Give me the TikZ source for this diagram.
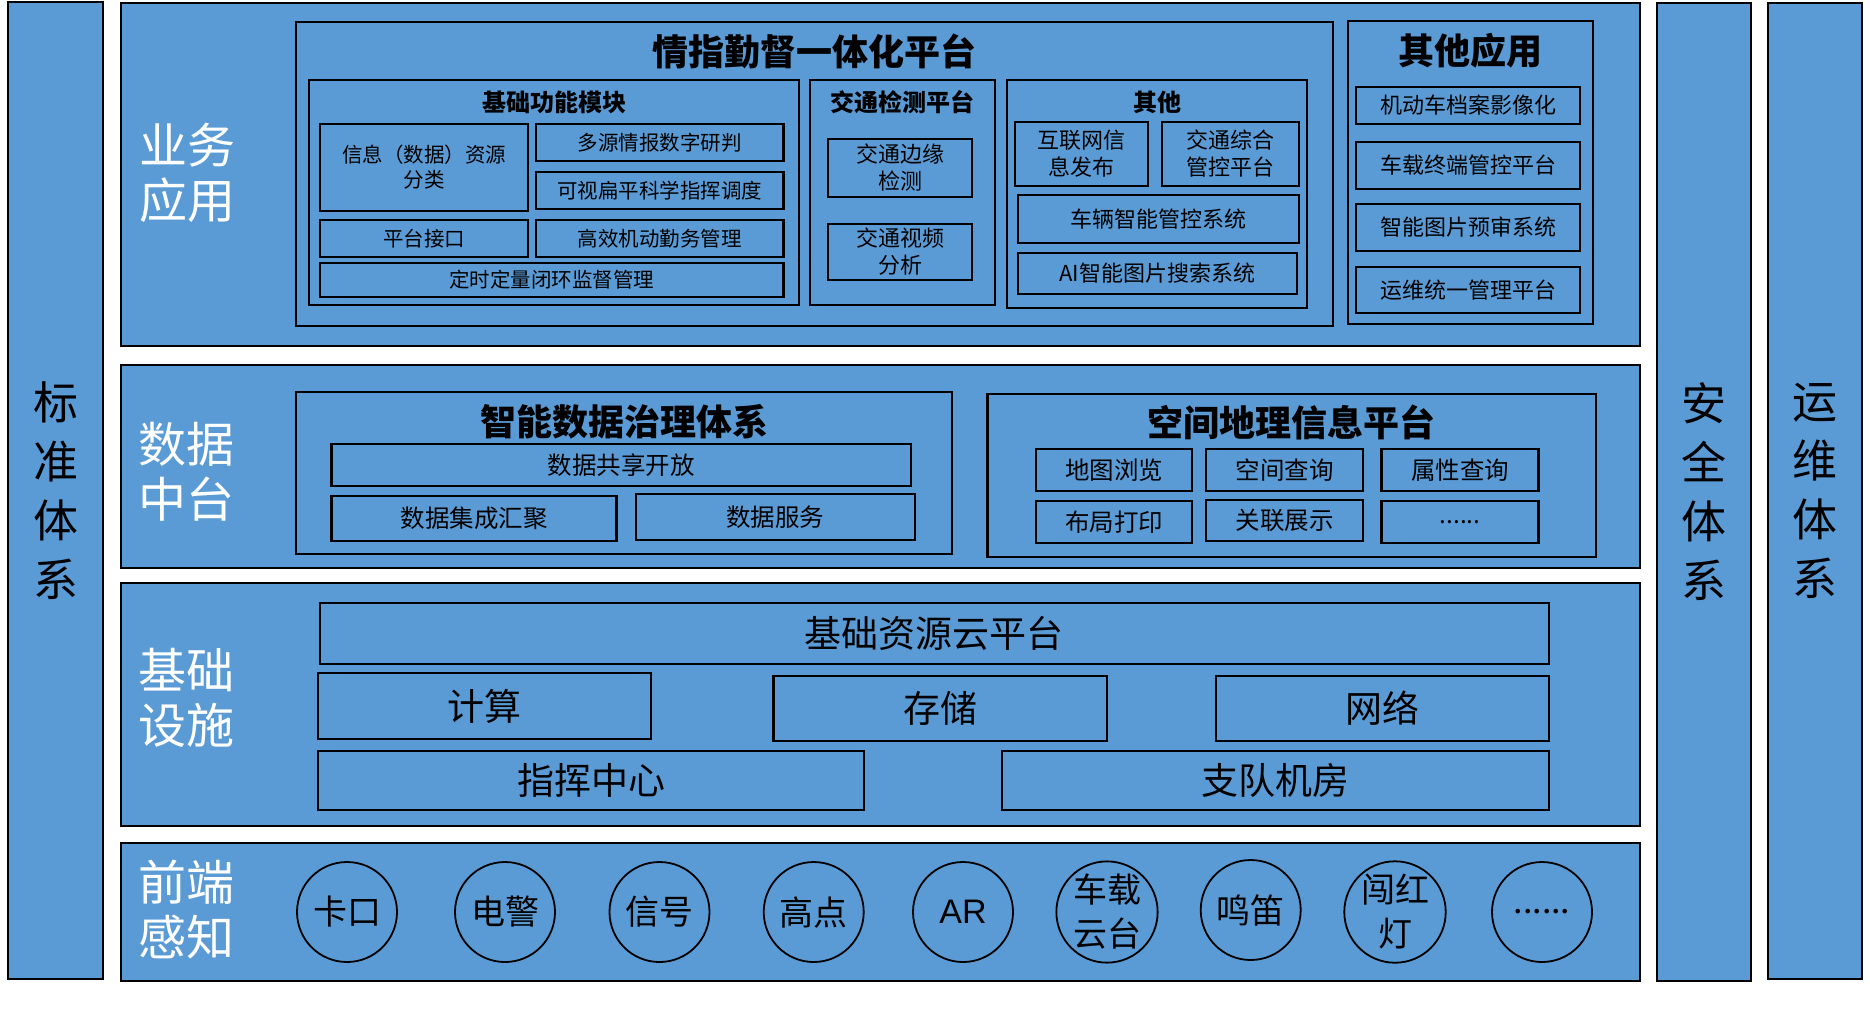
\documentclass[tikz,border=0pt]{standalone}
\usepackage{fontspec}
\setmainfont{Noto Sans CJK SC}
\newfontfamily\latinfont{Liberation Sans}
\usepackage{xcolor}
\usepackage{tikz}
\definecolor{panelblue}{HTML}{5B9BD5}

\begin{document}
\begin{tikzpicture}[x=1pt, y=-1pt,
    layer/.style={rectangle, draw, line width=2.4pt, fill=panelblue, inner sep=0pt},
    panel/.style={rectangle, draw, line width=2.2pt, fill=panelblue, inner sep=0pt},
    item/.style={rectangle, draw, line width=2.2pt, fill=panelblue, inner sep=0pt, align=center, font=\fontsize{20.5}{25}\selectfont},
    miditem/.style={item, font=\fontsize{22}{27}\selectfont},
    dataitem/.style={item, font=\fontsize{24.5}{29}\selectfont},
    bigitem/.style={item, font=\fontsize{37}{42}\selectfont},
    sensor/.style={circle, draw, line width=1.8pt, minimum size=100pt, inner sep=0pt, align=center, font=\fontsize{34}{44}\selectfont},
    layertext/.style={white, align=center, font=\fontsize{48}{55}\selectfont},
    bartext/.style={align=center, font=\fontsize{45}{59}\selectfont},
    bigtitle/.style={font=\bfseries\fontsize{36}{40}\selectfont},
    subtitle/.style={font=\bfseries\fontsize{24}{28}\selectfont}]
    \useasboundingbox (0,0) rectangle (1870,1013);

    \node [layer, minimum width=95pt, minimum height=977pt] (stdbar) at (55.5,490.5) {};
    \node [bartext] (stdtxt) at (stdbar) {标\\准\\体\\系};
    \node [layer, minimum width=94pt, minimum height=978pt] (secbar) at (1704,492) {};
    \node [bartext] (sectxt) at (secbar) {安\\全\\体\\系};
    \node [layer, minimum width=94pt, minimum height=976pt] (opsbar) at (1815,491) {};
    \node [bartext] (opstxt) at (opsbar) {运\\维\\体\\系};

    \node [layer, minimum width=1519pt, minimum height=343pt] (app) at (880.5,174.5) {};
    \node [layer, minimum width=1519pt, minimum height=203pt] (data) at (880.5,466.5) {};
    \node [layer, minimum width=1519pt, minimum height=243pt] (infra) at (880.5,704.5) {};
    \node [layer, minimum width=1519pt, minimum height=138pt] (front) at (880.5,912) {};
    \node [layertext] (apptxt) at (187,173) {业务\\应用};
    \node [layertext] (datatxt) at (186,472) {数据\\中台};
    \node [layertext] (infratxt) at (186,698) {基础\\设施};
    \node [layertext] (fronttxt) at (186,910) {前端\\感知};

    \node [panel, minimum width=1037pt, minimum height=304pt] (qzpt) at (814.5,174) {};
    \node [bigtitle] (qzpttitle) at ([yshift=-31pt]qzpt.north) {情指勤督一体化平台};
    \node [panel, minimum width=490pt, minimum height=225pt] (jcgn) at (554,192.5) {};
    \node [subtitle] (jcgntitle) at ([yshift=-23pt]jcgn.north) {基础功能模块};
    \node [item, minimum width=208pt, minimum height=87pt] (xxzy) at (424,167.5) {信息（数据）资源\\分类};
    \node [item, minimum width=247.5pt, minimum height=37pt] (dyqb) at (659.75,142.5) {多源情报数字研判};
    \node [item, minimum width=247.5pt, minimum height=37pt] (ksbp) at (659.75,190.5) {可视扁平科学指挥调度};
    \node [item, minimum width=208pt, minimum height=37pt] (ptjk) at (424,238.5) {平台接口};
    \node [item, minimum width=247.5pt, minimum height=37pt] (gxjd) at (659.75,238.5) {高效机动勤务管理};
    \node [item, minimum width=463.5pt, minimum height=34pt] (dsdl) at (551.75,280) {定时定量闭环监督管理};

    \node [panel, minimum width=185pt, minimum height=225pt] (jtjc) at (902.5,192.5) {};
    \node [subtitle] (jtjctitle) at ([yshift=-23pt]jtjc.north) {交通检测平台};
    \node [miditem, minimum width=144pt, minimum height=58pt] (jtby) at (900,168) {交通边缘\\检测};
    \node [miditem, minimum width=144pt, minimum height=56pt] (jtsp) at (900,252) {交通视频\\分析};

    \node [panel, minimum width=300pt, minimum height=228pt] (qita) at (1157,194) {};
    \node [subtitle] (qitatitle) at ([yshift=-23pt]qita.north) {其他};
    \node [miditem, minimum width=133pt, minimum height=64pt] (hlw) at (1081.5,154) {互联网信\\息发布};
    \node [miditem, minimum width=137pt, minimum height=64pt] (jtzh) at (1230.5,154) {交通综合\\管控平台};
    \node [miditem, minimum width=281pt, minimum height=48pt] (clzn) at (1158.5,219) {车辆智能管控系统};
    \node [miditem, minimum width=279pt, minimum height=41pt] (aizn) at (1157.5,273.5) {AI智能图片搜索系统};

    \node [panel, minimum width=245pt, minimum height=303pt] (qtyy) at (1470.5,172.5) {};
    \node [bigtitle] (qtyytitle) at ([yshift=-31pt]qtyy.north) {其他应用};
    \node [miditem, minimum width=224pt, minimum height=37pt] (jdcda) at (1468,105.5) {机动车档案影像化};
    \node [miditem, minimum width=224pt, minimum height=47pt] (czzd) at (1468,165.5) {车载终端管控平台};
    \node [miditem, minimum width=224pt, minimum height=47pt] (zntp) at (1468,227.5) {智能图片预审系统};
    \node [miditem, minimum width=224pt, minimum height=46pt] (ywty) at (1468,290) {运维统一管理平台};

    \node [panel, minimum width=656pt, minimum height=162pt] (zlsj) at (624,473) {};
    \node [bigtitle] (zlsjtitle) at ([yshift=-31pt]zlsj.north) {智能数据治理体系};
    \node [dataitem, minimum width=579.5pt, minimum height=42pt] (gxkf) at (621.25,465) {数据共享开放};
    \node [dataitem, minimum width=285pt, minimum height=45pt] (jchj) at (474,518.5) {数据集成汇聚};
    \node [dataitem, minimum width=279.3pt, minimum height=46pt] (sjfw) at (775.35,517) {数据服务};

    \node [panel, minimum width=608.5pt, minimum height=163pt] (kjdl) at (1291.75,475.5) {};
    \node [bigtitle] (kjdltitle) at ([yshift=-30pt]kjdl.north) {空间地理信息平台};
    \node [dataitem, minimum width=156pt, minimum height=42pt] (dtll) at (1114,470) {地图浏览};
    \node [dataitem, minimum width=157pt, minimum height=42pt] (kjcx) at (1284.5,470) {空间查询};
    \node [dataitem, minimum width=157pt, minimum height=42pt] (sxcx) at (1460,470) {属性查询};
    \node [dataitem, minimum width=156pt, minimum height=42pt] (bjdy) at (1114,522) {布局打印};
    \node [dataitem, minimum width=157pt, minimum height=41pt] (glzs) at (1284.5,520.5) {关联展示};
    \node [dataitem, minimum width=157pt, minimum height=42pt] (gisetc) at (1460,522) {......};

    \node [bigitem, minimum width=1229.4pt, minimum height=61pt] (jczy) at (934.3,633.5) {基础资源云平台};
    \node [bigitem, minimum width=332.6pt, minimum height=66pt] (js) at (484.3,706) {计算};
    \node [bigitem, minimum width=333.6pt, minimum height=65pt] (cc) at (940.2,708.5) {存储};
    \node [bigitem, minimum width=333pt, minimum height=65pt] (wl) at (1382.5,708.5) {网络};
    \node [bigitem, minimum width=546pt, minimum height=59pt] (zhzx) at (591,780.5) {指挥中心};
    \node [bigitem, minimum width=547pt, minimum height=59pt] (zdjf) at (1275.5,780.5) {支队机房};

    \node [sensor] (kk) at (347,912) {卡口};
    \node [sensor] (dj) at (505,912) {电警};
    \node [sensor] (xh) at (659.5,912) {信号};
    \node [sensor] (gd) at (813.7,912) {高点};
    \node [sensor, font=\latinfont\fontsize{34}{44}\selectfont] (ar) at (963,912) {AR};
    \node [sensor] (czyt) at (1107,912) {车载\\云台};
    \node [sensor] (md) at (1250.7,910) {鸣笛};
    \node [sensor] (chd) at (1395,912) {闯红\\灯};
    \node [sensor] (sensoretc) at (1542,912) {......};
\end{tikzpicture}
\end{document}
